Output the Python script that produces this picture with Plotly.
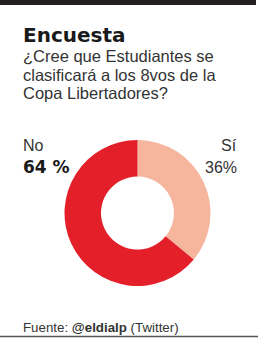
import plotly.graph_objects as go

W, H = 260, 338

labels = ["Sí", "No"]
values = [36, 64]
colors = ["#f6b59d", "#e3202a"]

title = "Encuesta"
question = ["¿Cree que Estudiantes se", "clasificará a los 8vos de la", "Copa Libertadores?"]
source = "Fuente: <b>@eldialp</b> (Twitter)"


def px(x):
    return x / W


def py(y):
    return 1 - y / H


cx, cy, r = 137.5, 213, 73

fig = go.Figure(go.Pie(
    labels=labels, values=values, sort=False, direction="clockwise", rotation=0,
    hole=0.5, marker=dict(colors=colors, line=dict(width=0)),
    textinfo="none", hoverinfo="label+percent", showlegend=False,
    domain=dict(x=[px(cx - r), px(cx + r)], y=[py(cy + r), py(cy - r)]),
))

ann = []
ann.append(dict(text="<b>" + title + "</b>", x=px(21), y=py(35), xanchor="left", yanchor="middle",
                font=dict(family="DejaVu Sans", size=20, color="#1a1a1a")))
for i, line in enumerate(question):
    ann.append(dict(text=line, x=px(21), y=py(56 + i * 18.7), xanchor="left", yanchor="middle",
                    font=dict(family="Liberation Sans", size=16.5, color="#333333")))
# slice labels
ann.append(dict(text=labels[1], x=px(21), y=py(145), xanchor="left", yanchor="middle",
                font=dict(family="Liberation Sans", size=16, color="#333333")))
ann.append(dict(text=f"<b>{values[1]} %</b>", x=px(21), y=py(167), xanchor="left", yanchor="middle",
                font=dict(family="DejaVu Sans", size=17, color="#1a1a1a")))
ann.append(dict(text=labels[0], x=px(239), y=py(145), xanchor="right", yanchor="middle",
                font=dict(family="Liberation Sans", size=16, color="#333333")))
ann.append(dict(text=f"{values[0]}%", x=px(239), y=py(167), xanchor="right", yanchor="middle",
                font=dict(family="Liberation Sans", size=16, color="#333333")))
ann.append(dict(text=source, x=px(21), y=py(327), xanchor="left", yanchor="middle",
                font=dict(family="Liberation Sans", size=13.3, color="#333333")))
for a in ann:
    a.update(xref="paper", yref="paper", showarrow=False)

shapes = [
    dict(type="rect", xref="paper", yref="paper", x0=0, x1=px(256), y0=py(5), y1=1,
         fillcolor="#231f20", line=dict(width=0)),
    dict(type="line", xref="paper", yref="paper", x0=0, x1=px(258), y0=py(336.5), y1=py(336.5),
         line=dict(color="#555555", width=1.5)),
]

fig.update_layout(
    width=W, height=H, margin=dict(l=0, r=0, t=0, b=0),
    paper_bgcolor="white", plot_bgcolor="white",
    annotations=ann, shapes=shapes,
)

fig.write_html("out.html", config={"displayModeBar": False})
